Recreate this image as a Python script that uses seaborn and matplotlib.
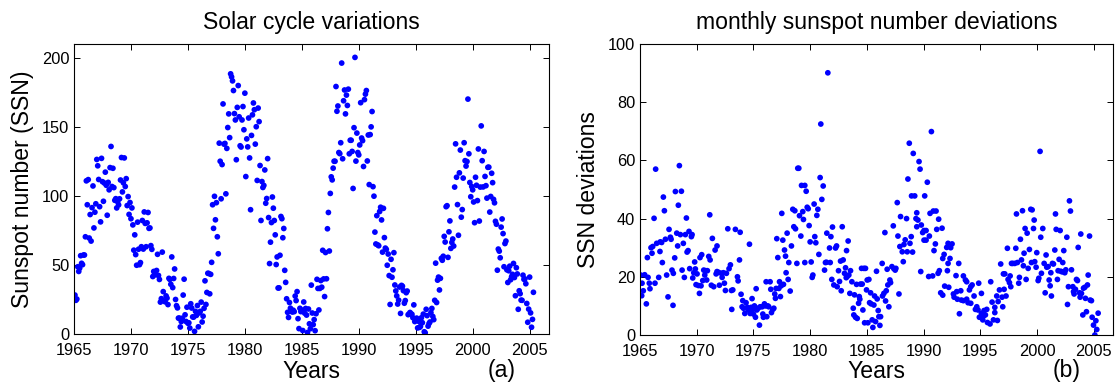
import numpy as np
import pandas as pd
import matplotlib
matplotlib.use("Agg")
import matplotlib.pyplot as plt
import seaborn as sns

# Monthly sunspot numbers, one row per year of the record (Jan .. Dec)
ssn = [
    28.2, 24.4, 25.3, 48.7, 45.3, 47.7, 56.7, 51.2, 50.2, 57.2, 57.2, 70.4,
    110.9, 93.6, 111.8, 69.5, 86.5, 67.3, 91.5, 107.2, 76.8, 88.2, 94.3, 126.4,
    121.8, 111.9, 92.2, 81.2, 127.2, 110.3, 96.1, 109.3, 117.2, 107.7, 86.0, 109.8,
    104.4, 120.5, 135.8, 106.8, 120.0, 106.0, 96.8, 98.0, 91.3, 95.7, 93.5, 97.9,
    111.5, 127.8, 102.9, 109.5, 127.5, 106.8, 112.5, 93.0, 99.5, 86.6, 95.2, 83.5,
    91.3, 79.0, 60.7, 71.8, 57.5, 49.8, 81.0, 61.4, 50.2, 51.7, 63.2, 82.2,
    61.5, 88.4, 80.1, 63.2, 80.5, 88.0, 76.5, 76.8, 64.0, 61.3, 41.6, 45.3,
    43.4, 42.9, 46.0, 57.7, 42.4, 39.5, 23.1, 25.6, 59.3, 30.7, 23.9, 23.3,
    27.6, 26.0, 21.3, 40.3, 39.5, 36.0, 55.8, 33.6, 40.2, 47.1, 25.0, 20.5,
    18.9, 11.5, 11.5, 5.1, 9.0, 11.4, 28.2, 39.7, 13.9, 9.1, 19.4, 7.8,
    8.1, 4.3, 21.9, 18.8, 12.4, 12.2, 1.9, 16.4, 13.5, 20.6, 5.2, 15.3,
    16.4, 23.1, 8.7, 12.9, 18.6, 38.5, 21.4, 30.1, 44.0, 43.8, 29.1, 43.2,
    51.9, 93.6, 76.5, 99.7, 82.7, 95.1, 70.4, 58.1, 138.2, 125.1, 97.9, 122.7,
    166.6, 137.5, 138.0, 101.5, 134.4, 149.5, 159.4, 142.2, 188.4, 186.2, 183.3, 176.3,
    159.6, 155.0, 126.2, 164.1, 179.9, 157.3, 136.3, 135.4, 155.0, 164.7, 147.9, 174.4,
    114.0, 141.3, 135.5, 156.4, 127.5, 90.0, 143.8, 158.7, 167.3, 162.4, 137.5, 150.1,
    111.2, 163.6, 153.8, 122.0, 82.2, 110.4, 106.1, 107.6, 118.8, 94.7, 98.1, 127.0,
    84.3, 51.0, 66.5, 80.7, 99.2, 91.1, 82.2, 71.8, 50.3, 55.8, 33.3, 33.4,
    57.0, 85.1, 83.5, 69.7, 76.4, 46.1, 37.4, 25.5, 15.7, 12.0, 22.8, 18.7,
    16.5, 15.9, 17.2, 16.2, 27.5, 24.2, 30.7, 11.1, 3.9, 18.6, 16.2, 17.3,
    2.5, 23.2, 15.1, 18.5, 13.7, 1.1, 18.1, 7.4, 3.8, 35.4, 15.2, 6.8,
    10.4, 2.4, 14.7, 39.6, 33.0, 17.4, 33.0, 38.7, 33.9, 60.6, 39.9, 27.1,
    59.0, 40.0, 76.2, 88.0, 60.1, 101.8, 113.8, 111.6, 120.1, 125.1, 125.1, 179.2,
    161.3, 165.1, 131.4, 130.6, 138.5, 196.2, 126.9, 168.9, 176.7, 159.4, 173.0, 165.5,
    177.3, 130.5, 140.3, 140.3, 132.2, 105.4, 149.4, 200.3, 125.2, 145.5, 131.4, 129.7,
    136.9, 167.5, 141.9, 140.0, 121.3, 169.7, 173.7, 176.3, 125.3, 144.1, 108.2, 144.4,
    150.0, 161.1, 106.7, 99.8, 73.8, 65.2, 85.7, 64.5, 63.9, 88.7, 91.8, 82.6,
    59.3, 91.0, 69.8, 62.2, 61.3, 49.8, 57.9, 42.3, 21.4, 54.1, 41.1, 46.5,
    58.9, 35.5, 31.2, 27.6, 21.7, 24.5, 34.0, 14.9, 35.2, 34.6, 31.4, 22.3,
    24.2, 29.9, 31.1, 14.0, 14.5, 15.6, 14.5, 14.3, 11.8, 21.1, 9.0, 10.0,
    11.5, 4.4, 9.2, 4.8, 5.5, 11.8, 8.2, 14.4, 1.6, 0.9, 17.9, 13.3,
    5.7, 7.6, 8.7, 15.5, 18.5, 12.7, 10.4, 24.4, 51.3, 22.8, 39.0, 41.2,
    31.9, 40.3, 54.8, 53.4, 56.3, 70.7, 66.6, 92.2, 92.9, 55.5, 74.0, 81.9,
    62.0, 66.3, 68.8, 63.7, 106.4, 137.7, 113.5, 93.7, 71.5, 116.7, 133.2, 84.6,
    90.1, 112.9, 138.5, 125.5, 121.6, 124.9, 170.1, 130.5, 109.7, 99.4, 106.8, 104.4,
    95.6, 80.6, 113.5, 107.7, 96.6, 134.0, 81.8, 106.4, 150.7, 125.5, 106.5, 132.2,
    114.1, 107.4, 98.4, 120.7, 120.8, 88.3, 99.6, 116.4, 109.6, 97.5, 95.0, 81.6,
    79.5, 46.2, 61.5, 60.0, 55.2, 77.4, 83.3, 72.7, 48.7, 65.5, 67.3, 46.5,
    37.3, 45.8, 49.1, 39.3, 41.5, 43.2, 51.1, 40.9, 27.7, 48.0, 43.5, 17.9,
    31.3, 29.2, 24.5, 24.4, 42.6, 39.6, 39.9, 36.4, 22.1, 8.5, 18.0, 41.2,
    15.3, 4.9, 10.6, 30.2,
]
# time axis of the record, one step per month
ssn_time = 1965 + (np.arange(len(ssn)) + 1) / 12.0

# Monthly deviations of the sunspot number: (time, value) pairs
dev_time = [
    1965.06, 1965.18, 1965.15, 1965.29, 1965.41, 1965.56, 1965.71, 1965.82, 1965.88, 1965.65,
    1965.97, 1966.12, 1966.06, 1966.24, 1966.32, 1966.38, 1966.47, 1966.65, 1966.76, 1966.79,
    1966.91, 1966.97, 1967.06, 1967.15, 1967.24, 1967.35, 1967.47, 1967.56, 1967.68, 1967.74,
    1967.82, 1967.91, 1967.94, 1968.06, 1968.12, 1968.24, 1968.32, 1968.38, 1968.47, 1968.56,
    1968.65, 1968.71, 1968.82, 1968.91, 1969.00, 1969.09, 1969.15, 1969.24, 1969.32, 1969.38,
    1969.53, 1969.59, 1969.65, 1969.74, 1969.82, 1969.88, 1969.94, 1970.03, 1970.15, 1970.24,
    1970.29, 1970.38, 1970.44, 1970.53, 1970.62, 1970.71, 1970.79, 1970.88, 1970.94, 1971.06,
    1971.15, 1971.18, 1971.29, 1971.38, 1971.50, 1971.62, 1971.71, 1971.79, 1971.79, 1971.94,
    1972.00, 1972.18, 1972.24, 1972.35, 1972.44, 1972.53, 1972.62, 1972.74, 1972.85, 1972.97,
    1973.06, 1973.09,
    1973.18, 1973.41, 1973.59, 1973.65, 1973.77, 1973.83, 1973.91, 1974.00, 1974.06, 1974.12,
    1974.24, 1974.35, 1974.47, 1974.53, 1974.65, 1974.71, 1974.80, 1974.88, 1974.94, 1975.00,
    1975.09, 1975.18, 1975.24, 1975.30, 1975.41, 1975.53, 1975.59, 1975.77, 1975.83, 1975.88,
    1975.97, 1976.06, 1976.12, 1976.18, 1976.27, 1976.35, 1976.47, 1976.53, 1976.59, 1976.71,
    1976.80, 1976.88, 1976.94, 1977.00, 1977.06, 1977.15, 1977.24, 1977.30, 1977.38, 1977.44,
    1977.50, 1977.59, 1977.65, 1977.74, 1977.83, 1977.88, 1977.97, 1978.06, 1978.12, 1978.24,
    1978.35, 1978.47, 1978.56, 1978.65, 1978.71, 1978.83, 1978.91, 1979.00, 1979.06, 1979.18,
    1979.24, 1979.35, 1979.41, 1979.53, 1979.53, 1979.65, 1979.74, 1979.83, 1979.91, 1980.00,
    1980.09, 1980.18, 1980.24, 1980.35, 1980.41, 1980.50, 1980.59, 1980.68, 1980.77, 1980.88,
    1980.94, 1981.03,
    1981.15, 1981.56, 1981.27, 1981.35, 1981.47, 1981.71, 1981.83, 1981.97, 1981.44, 1981.77,
    1981.91, 1982.09, 1982.24, 1982.33, 1982.38, 1982.50, 1982.59, 1982.68, 1982.74, 1982.83,
    1982.91, 1983.03, 1983.12, 1983.18, 1983.21, 1983.27, 1983.35, 1983.41, 1983.50, 1983.56,
    1983.68, 1983.80, 1983.85, 1983.91, 1984.00, 1984.09, 1984.15, 1984.27, 1984.33, 1984.38,
    1984.44, 1984.53, 1984.59, 1984.65, 1984.74, 1984.80, 1984.88, 1984.97, 1985.03, 1985.09,
    1985.18, 1985.24, 1985.33, 1985.38, 1985.47, 1985.53, 1985.62, 1985.68, 1985.77, 1985.85,
    1985.91, 1986.00, 1986.06, 1986.15, 1986.21, 1986.35, 1986.38, 1986.50, 1986.59, 1986.65,
    1986.71, 1986.79, 1986.85, 1986.94, 1987.03, 1987.09, 1987.21, 1987.33, 1987.38, 1987.50,
    1987.56, 1987.68, 1987.74, 1987.83, 1987.91, 1987.97, 1988.12, 1988.21, 1988.27, 1988.38,
    1988.50, 1988.56, 1988.62, 1988.74, 1988.80, 1988.91, 1988.94, 1989.03, 1989.09,
    1989.60, 1989.69, 1990.33, 1989.22, 1990.10, 1990.69, 1989.40, 1989.33, 1990.57, 1990.86,
    1991.10, 1991.33, 1989.50, 1989.80, 1989.40, 1991.63, 1991.16, 1990.04, 1990.22, 1989.92,
    1990.51, 1990.04, 1990.22, 1991.04, 1992.16, 1992.51, 1992.39, 1990.92, 1992.04, 1991.81,
    1991.69, 1992.33, 1992.16, 1993.10, 1989.75, 1991.39, 1992.10, 1990.45, 1990.80, 1991.28,
    1992.86, 1993.51, 1993.69, 1993.80, 1995.92, 1996.80, 1997.04, 1994.28, 1994.16, 1991.86,
    1992.22, 1994.86, 1991.51, 1991.69, 1992.63, 1992.92, 1993.28, 1994.04, 1992.69, 1992.98,
    1993.33, 1993.80, 1994.45, 1995.10, 1996.69, 1993.51, 1993.92, 1994.16, 1994.69, 1994.80,
    1994.57, 1995.33, 1996.45, 1996.04, 1996.28, 1996.57, 1996.92, 1996.98, 1993.16, 1995.10,
    1995.28, 1995.45, 1996.28, 1994.92, 1995.22, 1995.57, 1995.63, 1995.86, 1996.16, 1996.51,
    1997.10, 1997.16, 1997.27, 1997.39, 1997.45, 1997.57, 1997.63, 1997.69, 1997.75, 1997.86,
    1998.04, 1998.13, 1998.19, 1998.27, 1998.39, 1998.45, 1998.54, 1998.63, 1998.72, 1998.80,
    1998.86, 1998.95, 1999.04, 1999.13, 1999.22, 1999.33, 1999.45, 1999.57, 1999.51, 1999.69,
    1999.75, 1999.80, 1999.92, 1999.98, 2000.10, 2000.16, 2000.27, 2000.33, 2000.39, 2000.51,
    2000.63, 2000.72, 2000.80, 2000.86, 2000.98, 2001.07, 2001.16, 2001.22, 2001.27, 2001.36,
    2001.45, 2001.57, 2001.63, 2001.69, 2001.80, 2001.86, 2001.95, 2002.04, 2002.10, 2002.22,
    2002.27, 2002.36, 2002.45, 2002.54, 2002.63, 2002.69, 2002.77, 2002.86, 2002.95, 2003.04,
    2003.16, 2003.22, 2003.27, 2003.39, 2003.48, 2003.57, 2003.63, 2003.75, 2003.80, 2003.86,
    2003.92, 2004.04, 2004.10, 2004.22, 2004.27, 2004.36, 2004.45, 2004.51, 2004.63, 2004.69,
    2004.80, 2004.86, 2004.98, 2005.10, 2005.19, 2005.27, 2005.39,
]
dev_value = [
    20.6, 17.8, 13.5, 15.2, 20.7, 10.7, 19.8, 17.8, 15.9, 26.6,
    30.0, 30.4, 28.1, 40.1, 17.8, 57.0, 31.5, 19.8, 28.7, 32.0,
    31.8, 24.9, 47.4, 42.7, 32.9, 20.6, 13.1, 36.3, 33.6, 32.9,
    22.3, 10.2, 21.2, 26.5, 49.3, 35.0, 30.6, 44.6, 58.2, 34.5,
    49.4, 22.3, 31.5, 19.8, 34.5, 40.2, 28.5, 29.0, 35.6, 22.8,
    33.8, 34.5, 19.6, 21.4, 25.1, 22.7, 17.3, 21.0, 17.0, 14.3,
    26.6, 16.9, 27.6, 18.7, 22.3, 20.6, 22.1, 18.9, 22.1, 27.0,
    41.3, 25.8, 17.1, 33.2, 16.6, 29.2, 21.0, 30.6, 21.8, 21.5,
    17.1, 21.2, 19.8, 21.4, 17.8, 15.3, 21.2, 36.5, 22.8, 24.1,
    15.3, 8.8,
    15.5, 36.3, 20.0, 18.6, 25.8, 35.3, 14.0, 9.7, 11.8, 9.2,
    7.4, 11.1, 9.5, 8.6, 31.2, 7.4, 9.5, 12.5, 8.8, 7.2,
    10.0, 6.1, 15.9, 8.6, 9.2, 3.4, 9.7, 9.7, 7.2, 6.1,
    10.7, 10.0, 18.3, 6.3, 10.0, 9.7, 18.3, 15.7, 7.7, 8.8,
    9.2, 14.1, 12.6, 16.0, 33.1, 26.6, 16.0, 18.3, 13.2, 16.9,
    41.8, 32.6, 17.4, 29.2, 27.1, 21.4, 35.0, 19.1, 24.9, 15.1,
    30.6, 43.2, 37.2, 42.7, 36.5, 24.6, 57.3, 57.3, 41.0, 34.0,
    51.4, 42.4, 39.7, 51.4, 24.9, 49.4, 43.9, 43.4, 37.6, 32.0,
    25.1, 19.8, 20.6, 45.0, 33.8, 31.7, 41.1, 43.2, 27.7, 54.1,
    72.5, 46.6,
    51.2, 90.1, 22.3, 24.9, 35.0, 29.9, 33.8, 37.1, 25.0, 24.9,
    19.1, 17.2, 29.9, 30.6, 16.6, 22.1, 18.4, 25.4, 15.2, 37.2,
    25.8, 21.2, 23.1, 19.7, 29.0, 20.1, 32.3, 20.6, 14.3, 22.1,
    18.3, 9.2, 6.9, 13.8, 6.1, 17.4, 5.7, 10.9, 13.2, 12.3,
    17.5, 22.9, 17.5, 8.6, 22.9, 4.2, 22.9, 15.5, 18.9, 4.2,
    19.1, 11.1, 14.5, 10.7, 5.2, 2.6, 10.3, 13.4, 4.6, 21.9,
    12.4, 8.4, 6.3, 3.3, 6.3, 24.6, 13.4, 14.3, 35.2, 11.7,
    15.2, 22.6, 17.2, 9.7, 18.9, 18.0, 23.5, 37.5, 22.8, 22.3,
    22.9, 45.5, 34.0, 14.1, 30.4, 40.7, 28.6, 25.2, 31.1, 32.7,
    40.0, 28.6, 53.6, 65.9, 31.5, 33.8, 47.8, 28.5, 62.4,
    59.6, 57.0, 52.5, 47.8, 47.8, 69.9, 42.0, 40.0, 41.8, 42.6,
    42.6, 39.8, 39.5, 37.8, 37.2, 36.7, 36.3, 35.9, 35.9, 35.2,
    34.0, 32.6, 32.6, 31.3, 31.5, 31.3, 30.0, 29.0, 30.1, 27.7,
    26.3, 26.3, 24.6, 24.6, 21.8, 22.1, 22.1, 20.1, 20.3, 21.2,
    20.4, 20.3, 18.9, 18.3, 18.3, 24.4, 21.0, 17.2, 16.6, 16.8,
    16.4, 17.8, 14.5, 13.7, 14.1, 14.9, 15.2, 15.5, 13.0, 12.3,
    12.0, 12.3, 13.4, 14.3, 15.5, 11.8, 11.1, 10.9, 9.7, 8.6,
    8.8, 8.4, 13.4, 11.3, 9.5, 11.5, 13.0, 9.7, 7.3, 7.4,
    6.5, 6.9, 7.7, 6.1, 5.2, 8.8, 4.3, 3.8, 5.2, 5.0,
    15.7, 21.0, 13.4, 29.8, 19.1, 18.0, 20.3, 16.6, 24.6, 24.6,
    24.6, 29.8, 41.6, 24.9, 17.8, 19.8, 32.9, 25.8, 42.7, 23.8,
    28.1, 36.6, 19.1, 35.0, 22.9, 29.4, 43.2, 43.0, 24.9, 36.6,
    39.5, 25.2, 23.3, 28.3, 18.7, 19.5, 63.1, 33.6, 21.2, 36.6,
    24.6, 14.5, 27.5, 23.3, 23.5, 18.9, 16.9, 21.4, 13.4, 24.6,
    24.4, 29.2, 41.6, 36.3, 19.1, 22.1, 26.0, 35.9, 21.9, 21.7,
    24.9, 29.0, 21.4, 22.4, 33.6, 10.5, 16.6, 46.1, 42.6, 22.4,
    16.6, 14.9, 14.1, 15.7, 19.1, 18.7, 30.1, 14.5, 13.0, 34.7,
    14.3, 6.9, 16.1, 16.4, 12.6, 8.0, 17.2, 20.6, 34.0, 12.0,
    11.8, 6.1, 3.4, 0.0, 4.9, 1.9, 7.5,
]

year_ticks = [1965, 1970, 1975, 1980, 1985, 1990, 1995, 2000, 2005]

sns.set_theme(style="ticks")
plt.rcParams["font.family"] = ["Liberation Sans", "DejaVu Sans"]
plt.rcParams.update({
    "axes.edgecolor": "black",
    "text.color": "black",
    "axes.labelcolor": "black",
    "xtick.color": "black",
    "ytick.color": "black",
})

W, H = 1116, 383
fig = plt.figure(figsize=(W / 100, H / 100), dpi=100)
fig.patch.set_facecolor("white")

ax1 = fig.add_axes([74 / W, 1 - 334 / H, 475 / W, 290 / H])
ax2 = fig.add_axes([640 / W, 1 - 335 / H, 473 / W, 291 / H])

ssn_df = pd.DataFrame({"year": ssn_time, "ssn": ssn})
dev_df = pd.DataFrame({"year": dev_time, "dev": dev_value})

dot = dict(color="#0000ff", s=17, linewidth=0, edgecolor="none")
sns.scatterplot(data=ssn_df, x="year", y="ssn", ax=ax1, **dot)
sns.scatterplot(data=dev_df, x="year", y="dev", ax=ax2, **dot)

ax1.set_ylim(0, 210)
ax1.set_yticks([0, 50, 100, 150, 200])
ax2.set_ylim(0, 100)
ax2.set_yticks([0, 20, 40, 60, 80, 100])

for ax in (ax1, ax2):
    ax.set_xlim(1965, 2006.7)
    ax.set_xticks(year_ticks)
    ax.tick_params(direction="in", top=True, right=True, length=4, width=0.7,
                   labelsize=11.8, colors="black")
    ax.tick_params(axis="x", pad=6.5)
    ax.tick_params(axis="y", pad=3.4)
    for sp in ax.spines.values():
        sp.set_linewidth(0.8)
        sp.set_color("black")
    ax.set_facecolor("white")

ax1.set_title("Solar cycle variations", fontsize=16.6, pad=10.6)
ax2.set_title("monthly sunspot number deviations", fontsize=16.6, pad=10.6)

ax1.set_xlabel("Years", fontsize=16.6, va="baseline")
ax2.set_xlabel("Years", fontsize=16.6, va="baseline")
ax1.xaxis.set_label_coords(0.5, -(378 - 334) / 290)
ax2.xaxis.set_label_coords(0.5, -(378 - 335) / 291)

ax1.set_ylabel("Sunspot number (SSN)", fontsize=16.6, va="center")
ax2.set_ylabel("SSN deviations", fontsize=16.6, va="center")
ax1.yaxis.set_label_coords((22.5 - 74) / 475, 0.5)
ax2.yaxis.set_label_coords((588.5 - 640) / 473, 0.5)

fig.text(501.7 / W, 1 - 376.5 / H, "(a)", fontsize=16.6, ha="center", va="baseline")
fig.text(1066.7 / W, 1 - 376.5 / H, "(b)", fontsize=16.6, ha="center", va="baseline")

fig.savefig("out.png", dpi=100, facecolor="white")
